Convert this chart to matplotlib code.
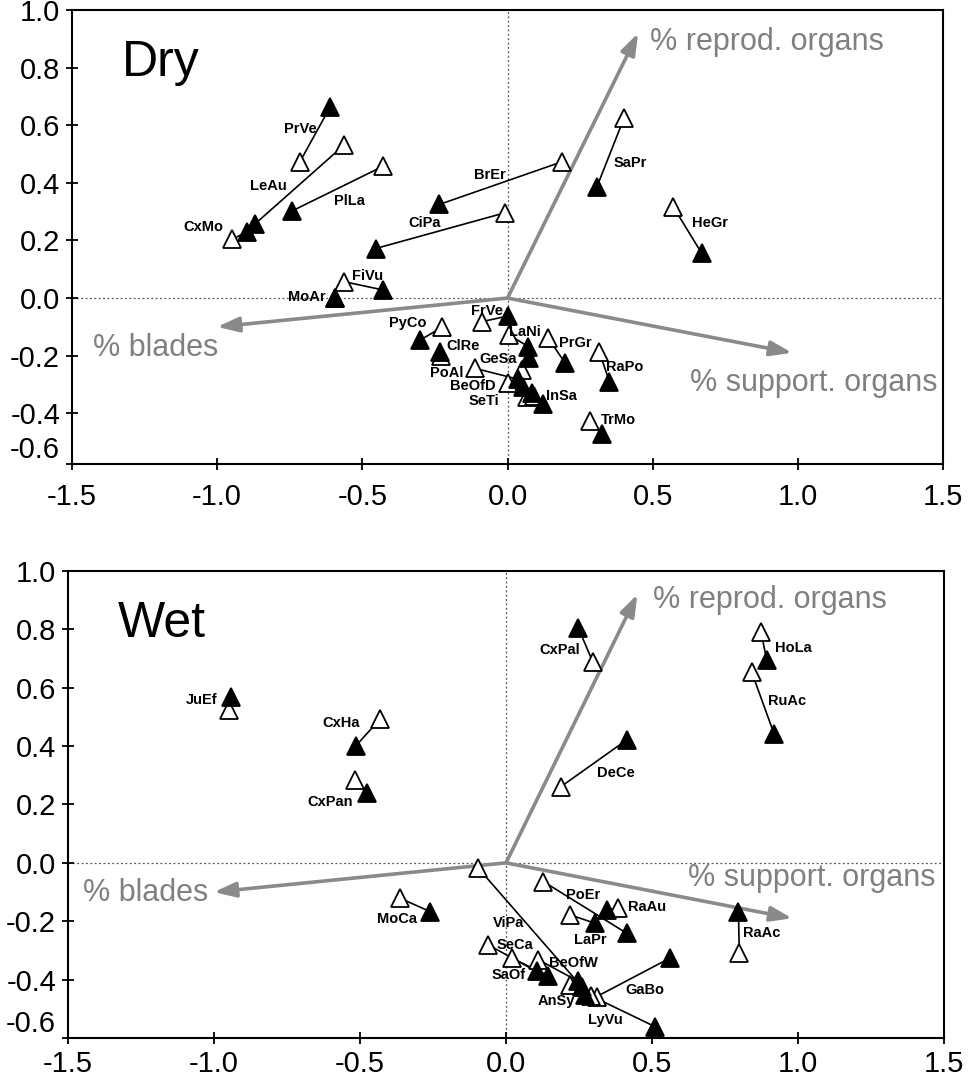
import numpy as np
import matplotlib
matplotlib.use("Agg")
import matplotlib.pyplot as plt
import matplotlib.ticker as ticker

plt.rcParams['font.family'] = ['Liberation Sans', 'DejaVu Sans']

# ---- arrows (trait loadings), same in both panels
var_names = ["% reprod. organs", "% blades", "% support. organs"]
var_x = [0.45, -1.00, 0.98]
var_y = [0.92, -0.10, -0.19]

# ---- Dry panel
dry_species = ["PrVe", "LeAu", "CxMo", "PlLa", "BrEr", "CiPa", "FiVu", "MoAr",
               "SaPr", "HeGr", "FrVe", "PyCo", "ClRe", "LaNi", "PrGr", "GeSa",
               "PoAl", "RaPo", "BeOfD", "SeTi", "InSa", "TrMo"]
dry_open_x = [-0.715, -0.563, -0.948, -0.428, 0.187, -0.009, -0.563, -0.594,
              0.401, 0.571, -0.089, -0.227, -0.230, 0.006, 0.141, 0.049,
              -0.112, 0.316, 0.003, 0.066, 0.091, 0.284]
dry_open_y = [0.473, 0.531, 0.204, 0.458, 0.473, 0.296, 0.057, 0.000,
              0.624, 0.317, -0.082, -0.102, -0.200, -0.128, -0.140, -0.250,
              -0.244, -0.186, -0.296, -0.343, -0.340, -0.426]
dry_fill_x = [-0.610, -0.870, -0.898, -0.743, -0.235, -0.454, -0.428, -0.594,
              0.307, 0.669, 0.003, -0.301, -0.233, 0.072, 0.198, 0.075,
              0.037, 0.351, 0.054, 0.083, 0.121, 0.324]
dry_fill_y = [0.665, 0.257, 0.230, 0.302, 0.325, 0.172, 0.028, 0.000,
              0.384, 0.155, -0.062, -0.146, -0.186, -0.169, -0.225, -0.209,
              -0.282, -0.290, -0.310, -0.329, -0.368, -0.472]
dry_lab_x = [-0.715, -0.825, -1.049, -0.543, -0.060, -0.284, -0.481, -0.691,
             0.424, 0.698, -0.072, -0.342, -0.152, 0.060, 0.233, -0.032,
             -0.209, 0.405, -0.118, -0.080, 0.187, 0.382]
dry_lab_y = [0.587, 0.389, 0.247, 0.337, 0.427, 0.260, 0.076, 0.003,
             0.470, 0.260, -0.044, -0.088, -0.167, -0.117, -0.157, -0.213,
             -0.259, -0.239, -0.306, -0.358, -0.340, -0.424]

# ---- Wet panel
wet_species = ["JuEf", "CxHa", "CxPan", "CxPal", "HoLa", "RuAc", "DeCe", "MoCa",
               "ViPa", "SeCa", "SaOf", "BeOfW", "AnSy", "GaBo", "LyVu", "PoEr",
               "LaPr", "RaAu", "RaAc"]
wet_open_x = [-0.948, -0.432, -0.517, 0.297, 0.873, 0.841, 0.188, -0.363,
              -0.095, -0.061, 0.019, 0.111, 0.219, 0.311, 0.290, 0.128,
              0.219, 0.385, 0.799]
wet_open_y = [0.524, 0.492, 0.284, 0.689, 0.792, 0.655, 0.261, -0.121,
              -0.018, -0.281, -0.326, -0.332, -0.418, -0.458, -0.455, -0.064,
              -0.178, -0.155, -0.309]
wet_fill_x = [-0.943, -0.514, -0.475, 0.248, 0.893, 0.918, 0.413, -0.260,
              0.259, 0.105, 0.145, 0.248, 0.271, 0.562, 0.510, 0.413,
              0.305, 0.345, 0.796]
wet_fill_y = [0.567, 0.401, 0.239, 0.804, 0.695, 0.442, 0.421, -0.167,
              -0.424, -0.372, -0.387, -0.406, -0.452, -0.326, -0.561, -0.241,
              -0.207, -0.161, -0.167]
wet_lab_x = [-1.042, -0.563, -0.603, 0.185, 0.984, 0.961, 0.377, -0.374,
             0.008, 0.031, 0.008, 0.230, 0.174, 0.476, 0.339, 0.265,
             0.288, 0.482, 0.876]
wet_lab_y = [0.558, 0.478, 0.207, 0.729, 0.735, 0.556, 0.307, -0.193,
             -0.207, -0.281, -0.384, -0.343, -0.475, -0.435, -0.538, -0.110,
             -0.264, -0.150, -0.241]

# where the trait labels sit, per panel
dry_var_lab = [(0.491, 0.889), (-1.428, -0.174), (0.629, -0.295)]
wet_var_lab = [(0.503, 0.900), (-1.449, -0.103), (0.623, -0.051)]


def draw_panel(ax, title, ox, oy, fx, fy, names, lx, ly, var_lab, ymin, xpad):
    ax.set_xlim(-1.5, 1.5)
    ax.set_ylim(ymin, 1.0)

    # zero lines
    ax.axhline(0, color='#555555', lw=0.9, ls=(0, (1.5, 2.0)), zorder=1)
    ax.axvline(0, color='#555555', lw=0.9, ls=(0, (1.5, 2.0)), zorder=1)

    # trait arrows
    for name, vx, vy, (tx, ty) in zip(var_names, var_x, var_y, var_lab):
        ax.annotate("", xy=(vx, vy), xytext=(0, 0),
                    arrowprops=dict(arrowstyle='-|>,head_length=1.3,head_width=0.45',
                                    color='#8a8a8a', lw=2.6,
                                    shrinkA=0, shrinkB=0),
                    zorder=2)
        ax.text(tx, ty, name, color='#808080', fontsize=22,
                ha='left', va='center', zorder=2)

    # species shifts
    for i in range(len(names)):
        ax.plot([ox[i], fx[i]], [oy[i], fy[i]], color='black', lw=1.2, zorder=3)
    ax.plot(ox, oy, ls='none', marker='^', ms=13.5, mfc='white', mec='black',
            mew=1.3, zorder=4)
    ax.plot(fx, fy, ls='none', marker='^', ms=13.5, mfc='black', mec='black',
            mew=1.3, zorder=5)
    for name, x, y in zip(names, lx, ly):
        ax.text(x, y, name, fontsize=10.5, fontweight='bold', ha='center',
                va='center', zorder=6)

    ax.text(0.057, 0.935, title, transform=ax.transAxes,
            fontsize=36, ha='left', va='top')

    ax.set_xticks(np.arange(-1.5, 1.51, 0.5))
    yt = [-0.4, -0.2, 0.0, 0.2, 0.4, 0.6, 0.8, 1.0, ymin]
    ax.set_yticks(yt)
    ax.set_yticklabels(["%.1f" % v for v in yt[:-1]] + ["-0.6"])
    ax.xaxis.set_major_formatter(ticker.FormatStrFormatter('%.1f'))
    ax.tick_params(direction='inout', length=9, width=1.3, labelsize=21)
    ax.tick_params(axis='x', pad=xpad)
    ax.tick_params(axis='y', pad=4)
    ax.get_yticklabels()[-1].set_va('bottom')
    for sp in ax.spines.values():
        sp.set_linewidth(1.5)


fig = plt.figure(figsize=(9.7, 10.81), dpi=100)
ax1 = fig.add_axes([0.0742, 0.5708, 0.898, 0.4199])
ax2 = fig.add_axes([0.0701, 0.0398, 0.9031, 0.4320])

draw_panel(ax1, "Dry", dry_open_x, dry_open_y, dry_fill_x, dry_fill_y,
           dry_species, dry_lab_x, dry_lab_y, dry_var_lab, -0.576, 9)
draw_panel(ax2, "Wet", wet_open_x, wet_open_y, wet_fill_x, wet_fill_y,
           wet_species, wet_lab_x, wet_lab_y, wet_var_lab, -0.60, 4)

fig.savefig("out.png", dpi=100)
